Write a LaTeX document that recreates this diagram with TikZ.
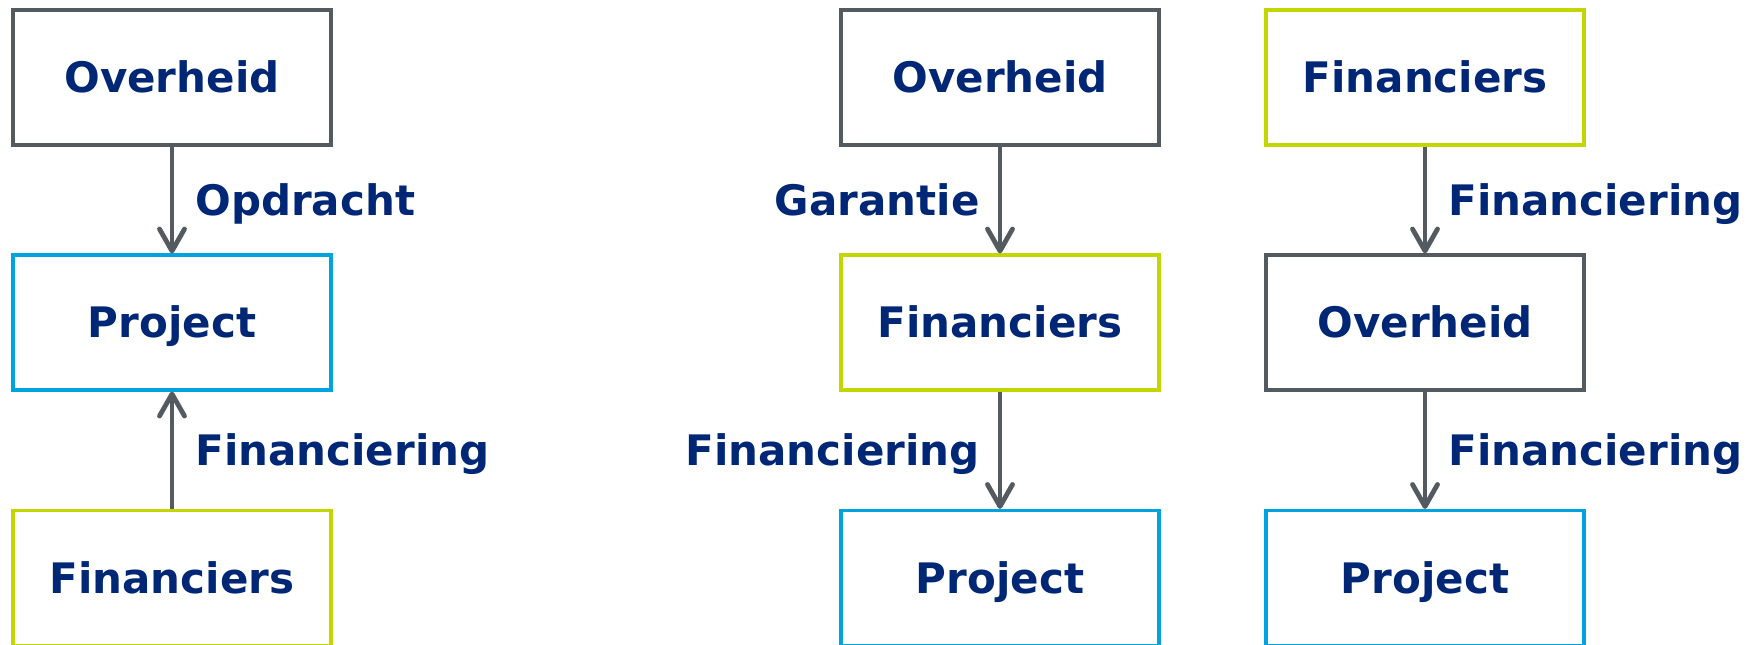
\documentclass[tikz,border=0pt]{standalone}
\usepackage{fontspec}
\setmainfont{DejaVu Sans}
\usetikzlibrary{arrows.meta}
\definecolor{navy}{RGB}{0,39,118}
\definecolor{slate}{RGB}{83,90,96}
\definecolor{skyblue}{RGB}{0,163,222}
\definecolor{lime}{RGB}{196,214,0}

\begin{document}
\begin{tikzpicture}[x=0.5pt,y=-0.5pt,
	box/.style={draw, line width=1.6pt, fill=white, minimum width=159pt, minimum height=67.5pt,
		text=navy, font=\fontsize{21pt}{25pt}\selectfont\bfseries, text height=15.3pt, text depth=0pt},
	govbox/.style={box, draw=slate},
	projbox/.style={box, draw=skyblue},
	finbox/.style={box, draw=lime},
	flow/.style={draw=slate, line width=2.4pt, -{Straight Barb[length=11pt,width=12.5pt,round]}},
	lab/.style={text=navy, font=\fontsize{21pt}{25pt}\selectfont\bfseries, inner sep=0pt, text height=15.3pt, text depth=0pt}]
	\useasboundingbox (0,0) rectangle (1760,644);
	
	% left column
	\node[govbox] (ov1) at (172,77.5) {Overheid};
	\node[projbox] (pr1) at (172,322.5) {Project};
	\node[finbox] (fi1) at (172,578) {Financiers};
	
	\draw[flow] (ov1) -- node[lab, right=10.5pt] (op1) {Opdracht} (pr1);
	\draw[flow] (fi1) -- node[lab, right=10.5pt] (fn1) {Financiering} (pr1);
	
	% middle column
	\node[govbox] (ov2) at (1000,77.5) {Overheid};
	\node[finbox] (fi2) at (1000,322.5) {Financiers};
	\node[projbox] (pr2) at (1000,578) {Project};
	
	\draw[flow] (ov2) -- node[lab, left=9pt] (ga2) {Garantie} (fi2);
	\draw[flow] (fi2) -- node[lab, left=9pt] (fn2) {Financiering} (pr2);
	
	% right column
	\node[finbox] (fi3) at (1425,77.5) {Financiers};
	\node[govbox] (ov3) at (1425,322.5) {Overheid};
	\node[projbox] (pr3) at (1425,578) {Project};
	
	\draw[flow] (fi3) -- node[lab, right=10.5pt] (fn3) {Financiering} (ov3);
	\draw[flow] (ov3) -- node[lab, right=10.5pt] (fn4) {Financiering} (pr3);
	
\end{tikzpicture}
\end{document}
